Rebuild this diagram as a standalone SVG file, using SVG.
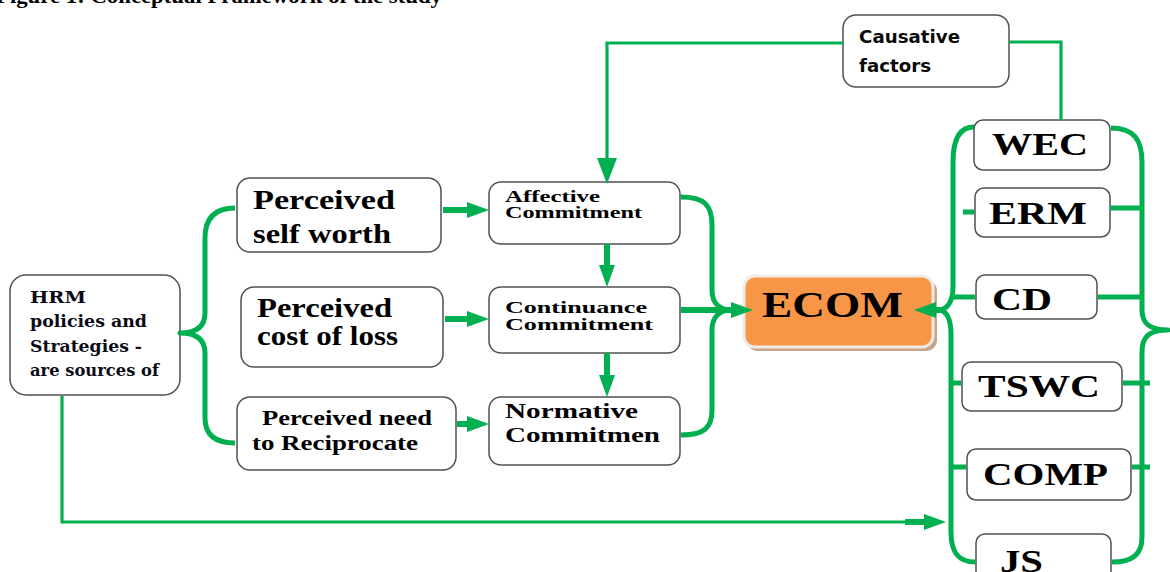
<svg xmlns="http://www.w3.org/2000/svg" width="1170" height="572" viewBox="0 0 1170 572">
<style>
.box{fill:#fff;stroke:#505050;stroke-width:1.5}
.g{fill:none;stroke:#00B050;stroke-width:5;stroke-linejoin:round}
.gt{fill:none;stroke:#00B050;stroke-width:3.2}
.ga{fill:none;stroke:#00B050;stroke-width:6}
.s{font-family:"Liberation Serif","Times New Roman",serif;font-weight:bold;fill:#000}
.d{font-family:"DejaVu Serif",serif;font-weight:bold;fill:#0a0a14}
.ss{font-family:"DejaVu Sans",sans-serif;font-weight:bold;fill:#0a0a0a}
</style>
<defs>
<marker id="ah" markerUnits="userSpaceOnUse" markerWidth="22" markerHeight="16" refX="0" refY="8" orient="auto" overflow="visible">
<path d="M0,0 L22,8 L0,16 Z" fill="#00B050"/>
</marker>
<marker id="ahL" markerUnits="userSpaceOnUse" markerWidth="26" markerHeight="20" refX="0" refY="10" orient="auto" overflow="visible">
<path d="M0,0 L26,10 L0,20 Z" fill="#00B050"/>
</marker>
</defs>
<rect width="1170" height="572" fill="#fff"/>
<text class="s" x="-4" y="3" font-size="22" textLength="446" lengthAdjust="spacingAndGlyphs">Figure 1: Conceptual Framework of the study</text>

<g id="hrm">
<rect class="box" x="10" y="275" width="170" height="120" rx="16"/>
<text class="d" font-size="17"><tspan x="30" y="303" textLength="56" lengthAdjust="spacingAndGlyphs">HRM</tspan><tspan x="30" y="327" textLength="117" lengthAdjust="spacingAndGlyphs">policies and</tspan><tspan x="30" y="352" textLength="112" lengthAdjust="spacingAndGlyphs">Strategies -</tspan><tspan x="30" y="376" textLength="129" lengthAdjust="spacingAndGlyphs">are sources  of</tspan></text>
</g>

<g id="self-worth">
<rect class="box" x="237" y="178" width="204" height="74" rx="13"/>
<text class="s" font-size="28"><tspan x="253" y="209" textLength="142" lengthAdjust="spacingAndGlyphs">Perceived</tspan><tspan x="253" y="243" textLength="138" lengthAdjust="spacingAndGlyphs">self worth</tspan></text>
</g>

<g id="cost-of-loss">
<rect class="box" x="241" y="287" width="202" height="80" rx="13"/>
<text class="s" font-size="27"><tspan x="257" y="317" textLength="135" lengthAdjust="spacingAndGlyphs">Perceived</tspan><tspan x="257" y="345" textLength="141" lengthAdjust="spacingAndGlyphs">cost of loss</tspan></text>
</g>

<g id="need-reciprocate">
<rect class="box" x="237" y="397" width="219" height="73" rx="13"/>
<text class="s" font-size="21"><tspan x="262" y="425" textLength="170" lengthAdjust="spacingAndGlyphs">Perceived need</tspan><tspan x="252" y="450" textLength="166" lengthAdjust="spacingAndGlyphs">to Reciprocate</tspan></text>
</g>

<g id="affective">
<rect class="box" x="489" y="182" width="191" height="62" rx="12"/>
<text class="s" font-size="17"><tspan x="505" y="202" textLength="95" lengthAdjust="spacingAndGlyphs">Affective</tspan><tspan x="505" y="218" textLength="137" lengthAdjust="spacingAndGlyphs">Commitment</tspan></text>
</g>

<g id="continuance">
<rect class="box" x="489" y="287" width="191" height="66" rx="12"/>
<text class="s" font-size="17"><tspan x="505" y="313" textLength="142" lengthAdjust="spacingAndGlyphs">Continuance</tspan><tspan x="505" y="330" textLength="148" lengthAdjust="spacingAndGlyphs">Commitment</tspan></text>
</g>

<g id="normative">
<rect class="box" x="489" y="397" width="191" height="68" rx="12"/>
<text class="s" font-size="22"><tspan x="505" y="418" textLength="133" lengthAdjust="spacingAndGlyphs">Normative</tspan><tspan x="505" y="442" textLength="155" lengthAdjust="spacingAndGlyphs">Commitmen</tspan></text>
</g>

<g id="ecom">
<rect x="747" y="280" width="190" height="71" rx="11" fill="#c9a488"/>
<rect x="744" y="276" width="189" height="71" rx="11" fill="#F79646" stroke="#f1ebe6" stroke-width="3"/>
<text class="s" x="762" y="317" font-size="35" textLength="141" lengthAdjust="spacingAndGlyphs">ECOM</text>
</g>

<g id="causative">
<rect class="box" x="843" y="15" width="166" height="72" rx="13"/>
<text class="ss" font-size="18"><tspan x="859" y="43" textLength="101" lengthAdjust="spacingAndGlyphs">Causative</tspan><tspan x="859" y="72" textLength="72" lengthAdjust="spacingAndGlyphs">factors</tspan></text>
</g>

<g id="wec">
<rect class="box" x="974" y="120" width="136" height="50" rx="9"/>
<text class="s" x="992" y="155" font-size="31" textLength="96" lengthAdjust="spacingAndGlyphs">WEC</text>
</g>
<g id="erm">
<rect class="box" x="975" y="188" width="135" height="49" rx="9"/>
<text class="s" x="989" y="224" font-size="31" textLength="98" lengthAdjust="spacingAndGlyphs">ERM</text>
</g>
<g id="cd">
<rect class="box" x="976" y="275" width="121" height="44" rx="9"/>
<text class="s" x="992" y="310" font-size="31" textLength="60" lengthAdjust="spacingAndGlyphs">CD</text>
</g>
<g id="tswc">
<rect class="box" x="962" y="362" width="160" height="49" rx="9"/>
<text class="s" x="978" y="397" font-size="31" textLength="122" lengthAdjust="spacingAndGlyphs">TSWC</text>
</g>
<g id="comp">
<rect class="box" x="967" y="449" width="164" height="51" rx="9"/>
<text class="s" x="983" y="485" font-size="31" textLength="125" lengthAdjust="spacingAndGlyphs">COMP</text>
</g>
<g id="js">
<rect class="box" x="976" y="534" width="135" height="60" rx="9"/>
<text class="s" x="1000" y="572" font-size="31" textLength="43" lengthAdjust="spacingAndGlyphs">JS</text>
</g>

<g id="connectors">
<path class="g" d="M235,208 Q205,208 205,238 L205,313 Q205,333 180,333 Q205,333 205,353 L205,418 Q205,443 235,443"/>
<path class="ga" d="M443,210 L467,210" marker-end="url(#ah)"/>
<path class="ga" d="M445,319 L467,319" marker-end="url(#ah)"/>
<path class="ga" d="M457,424 L467,424" marker-end="url(#ah)"/>
<path class="ga" d="M607,244 L607,265" marker-end="url(#ah)"/>
<path class="ga" d="M607,353 L607,375" marker-end="url(#ah)"/>
<path class="gt" d="M843,43 L607,43 L607,158" marker-end="url(#ahL)"/>
<path class="gt" d="M1009,42 L1061,42 L1061,120"/>
<path class="g" d="M681,197 C704,197 712,205 712,225 L712,290 C712,304 720,310 732,310"/>
<path class="g" d="M681,435 C704,435 712,428 712,410 L712,330 C712,316 720,310 732,310"/>
<path class="ga" d="M681,310 L731,310" marker-end="url(#ah)"/>
<path class="g" d="M974,127 C959,127 953,140 953,162 L953,287 C953,302 947,310 938,310"/>
<path class="g" d="M975,562 C958,562 951,552 951,532 L951,335 C951,318 946,310 938,310"/>
<path class="ga" d="M940,310 L936,310" marker-end="url(#ah)"/>
<path class="g" d="M1111,128 C1134,128 1142,140 1142,162 L1142,310 C1142,324 1150,330 1168,330 C1150,330 1142,336 1142,352 L1142,537 C1142,555 1132,562 1112,562"/>
<path class="g" d="M963,212 L974,212 M1111,208 L1142,208 M953,297 L975,297 M1098,297 L1142,297 M951,383 L961,383 M1123,383 L1150,383 M951,467 L966,467 M1132,467 L1150,467"/>
<path class="gt" d="M62,396 L62,522 L924,522" marker-end="url(#ah)"/>
<path class="ga" d="M905,522 L925,522"/>
</g>
</svg>
